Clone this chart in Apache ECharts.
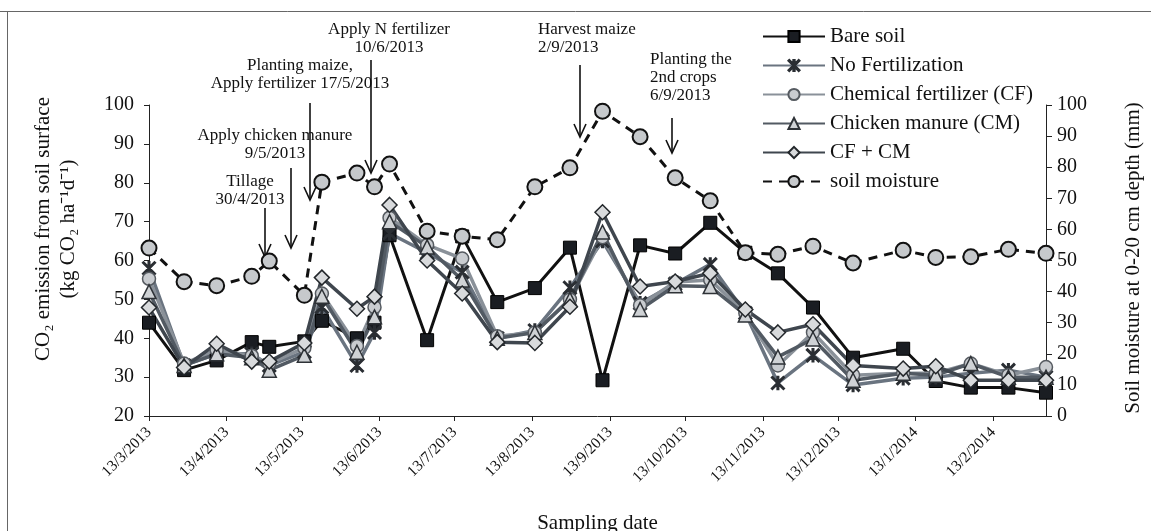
<!DOCTYPE html>
<html>
<head>
<meta charset="utf-8">
<script src="https://cdn.jsdelivr.net/npm/echarts@6/dist/echarts.min.js"></script>
<style>
  html, body { margin: 0; padding: 0; background: #fff; }
  #chart { width: 1151px; height: 531px; }
</style>
</head>
<body>
<div id="chart"></div>
<script>
// Sampling dates (field campaign, March 2013 – March 2014)
const sampleDates = [
  '2013-03-13','2013-03-27','2013-04-09','2013-04-23','2013-04-30','2013-05-14','2013-05-21',
  '2013-06-04','2013-06-11','2013-06-17','2013-07-02','2013-07-16','2013-07-30','2013-08-14',
  '2013-08-28','2013-09-10','2013-09-25','2013-10-09','2013-10-23','2013-11-06','2013-11-19',
  '2013-12-03','2013-12-19','2014-01-08','2014-01-21','2014-02-04','2014-02-19','2014-03-06'
];

// Month ticks on the date axis
const monthTicks = [
  '2013-03-13','2013-04-13','2013-05-13','2013-06-13','2013-07-13','2013-08-13',
  '2013-09-13','2013-10-13','2013-11-13','2013-12-13','2014-01-13','2014-02-13'
];

// CO2 emission (kg CO2 ha-1 d-1)
const bareSoil = [44, 31.8, 34.3, 39, 37.8, 39.2, 44.5, 40, 44, 66.5, 39.5, 66.2, 49.3, 52.9,
  63.3, 29.2, 63.9, 61.8, 69.7, 62, 56.7, 47.9, 35, 37.3, 29, 27.3, 27.3, 26];
const noFert = [58, 33, 36, 36, 33, 36.5, 48, 33, 41.5, 67, 62, 57, 40, 42,
  53, 65, 49, 54, 59, 46.5, 28.5, 35.6, 28, 29.7, 30, 31, 31.8, 30];
const chemFert = [55.3, 33.5, 37, 35.5, 33.5, 37.5, 51.5, 38, 48, 71, 64, 60.5, 40.5, 41.5,
  50, 66, 48.5, 54.5, 55, 46.5, 33, 41.5, 30.5, 31, 31, 33.5, 30.5, 32.6];
const chickenManure = [52, 33, 36, 35, 31.8, 35.6, 50.8, 36.4, 45.5, 70, 63.5, 55, 40, 41.5,
  50, 67.3, 47.4, 53.5, 53.3, 46, 35.2, 39.8, 29.2, 31, 30.5, 33.5, 30, 30];
const cfPlusCm = [47.9, 32.5, 38.6, 34, 34, 38.8, 55.6, 47.6, 50.7, 74.3, 60, 51.5, 39, 38.8,
  48.1, 72.4, 53.3, 54.6, 56.7, 47.4, 41.5, 43.6, 33, 32.2, 32.8, 29.2, 29.2, 29.2];

// Soil moisture at 0-20 cm depth (mm)
const soilMoisture = [54, 43.2, 41.9, 44.9, 49.8, 38.8, 75.2, 78.1, 73.7, 81, 59.4, 57.8, 56.7, 73.7,
  79.8, 98, 89.8, 76.6, 69.2, 52.5, 52, 54.6, 49.2, 53.3, 51, 51.2, 53.6, 52.3];

const seriesNames = ['Bare soil', 'No Fertilization', 'Chemical fertilizer (CF)',
  'Chicken manure (CM)', 'CF + CM', 'soil moisture'];

// Field operations marked above the curves
const events = [
  { lines: ['Tillage', '30/4/2013'], tx: 250, ty: 173, align: 'center', ax: 265, a1: 208, a2: 257 },
  { lines: ['Apply chicken manure', '9/5/2013'], tx: 275, ty: 127, align: 'center', ax: 291, a1: 168, a2: 248 },
  { lines: ['Planting maize,', 'Apply fertilizer 17/5/2013'], tx: 300, ty: 57, align: 'center', ax: 310, a1: 103, a2: 200 },
  { lines: ['Apply N fertilizer', '10/6/2013'], tx: 389, ty: 21, align: 'center', ax: 371, a1: 60, a2: 173 },
  { lines: ['Harvest maize', '2/9/2013'], tx: 538, ty: 21, align: 'left', ax: 580, a1: 65, a2: 137 },
  { lines: ['Planting the', '2nd crops', '6/9/2013'], tx: 650, ty: 51, align: 'left', ax: 672, a1: 118, a2: 153 }
];

const FONT = '"Liberation Serif", "Times New Roman", serif';

function ts(s) {
  const p = s.split('-').map(Number);
  return new Date(p[0], p[1] - 1, p[2]).getTime();
}
function pairs(vals) {
  return sampleDates.map((d, i) => [ts(d), vals[i]]);
}

// Excel-style asterisk marker
const asterisk = 'path://M4.4 0L5.6 0L5.6 10L4.4 10Z M0 0.8L0.8 0L10 9.2L9.2 10Z M9.2 0L10 0.8L0.8 10L0 9.2Z';

function treatment(name, data, symbol, size, lineColor, fill, border) {
  return {
    name, type: 'line', data: pairs(data), yAxisIndex: 0,
    symbol, symbolSize: size, showAllSymbol: true,
    lineStyle: { color: lineColor, width: 3.5 },
    itemStyle: { color: fill, borderColor: border, borderWidth: 1.5 },
    emphasis: { disabled: true }
  };
}

const chart = echarts.init(document.getElementById('chart'), null, { renderer: 'canvas' });

const graphics = [
  { type: 'line', shape: { x1: 0, y1: 11.5, x2: 1151, y2: 11.5 }, style: { stroke: '#666', lineWidth: 1 } },
  { type: 'line', shape: { x1: 7.5, y1: 11, x2: 7.5, y2: 531 }, style: { stroke: '#666', lineWidth: 1 } },
  {
    type: 'text', rotation: Math.PI / 2, x: 56, y: 229,
    style: { text: 'CO\u2082 emission from soil surface\n(kg CO\u2082 ha\u207B\u00B9d\u207B\u00B9)', font: '21px ' + FONT,
      fill: '#111', textAlign: 'center', textVerticalAlign: 'middle', lineHeight: 25 }
  },
  {
    type: 'text', rotation: Math.PI / 2, x: 1133, y: 258,
    style: { text: 'Soil moisture at 0-20 cm depth (mm)', font: '21px ' + FONT,
      fill: '#111', textAlign: 'center', textVerticalAlign: 'middle' }
  }
];

events.forEach(ev => {
  graphics.push({
    type: 'text', x: ev.tx, y: ev.ty,
    style: { text: ev.lines.join('\n'), font: '17px ' + FONT, fill: '#111',
      textAlign: ev.align, textVerticalAlign: 'top', lineHeight: 18 }
  });
  graphics.push({ type: 'line', shape: { x1: ev.ax, y1: ev.a1, x2: ev.ax, y2: ev.a2 },
    style: { stroke: '#111', lineWidth: 1.6 } });
  graphics.push({ type: 'polyline', shape: { points: [[ev.ax - 6, ev.a2 - 13], [ev.ax, ev.a2], [ev.ax + 6, ev.a2 - 13]] },
    style: { stroke: '#111', lineWidth: 1.6, fill: null } });
});

const tickValues = monthTicks.map(ts);

const option = {
  backgroundColor: '#fff',
  animation: false,
  textStyle: { fontFamily: FONT },
  grid: { left: 149, right: 105, top: 105, bottom: 115, containLabel: false, outerBoundsMode: 'none' },
  legend: {
    orient: 'vertical', left: 762, top: 26, padding: 0,
    itemWidth: 62, itemHeight: 14, itemGap: 8,
    selectedMode: false,
    data: seriesNames,
    textStyle: { fontFamily: FONT, fontSize: 21, color: '#111', lineHeight: 21 }
  },
  xAxis: {
    type: 'value',
    min: ts('2013-03-13'), max: ts('2014-03-06'),
    name: 'Sampling date', nameLocation: 'middle', nameGap: 97,
    nameTextStyle: { fontFamily: FONT, fontSize: 21, color: '#111' },
    axisLine: { lineStyle: { color: '#222', width: 1 } },
    axisTick: { show: true, length: 5, customValues: tickValues, lineStyle: { color: '#222' } },
    axisLabel: {
      rotate: 45, fontFamily: FONT, fontSize: 15.5, color: '#111', margin: 14,
      customValues: tickValues, hideOverlap: false,
      formatter: v => { const d = new Date(v); return d.getDate() + '/' + (d.getMonth() + 1) + '/' + d.getFullYear(); }
    },
    splitLine: { show: false }
  },
  yAxis: [
    {
      type: 'value', min: 20, max: 100, interval: 10, position: 'left',
      axisLine: { show: true, lineStyle: { color: '#222' } },
      axisTick: { show: true, length: 5, lineStyle: { color: '#222' } },
      axisLabel: { fontFamily: FONT, fontSize: 20, color: '#111', margin: 15 },
      splitLine: { show: false }
    },
    {
      type: 'value', min: 0, max: 100, interval: 10, position: 'right',
      axisLine: { show: true, lineStyle: { color: '#222' } },
      axisTick: { show: true, length: 6, lineStyle: { color: '#222' } },
      axisLabel: { fontFamily: FONT, fontSize: 20, color: '#111', margin: 11 },
      splitLine: { show: false }
    }
  ],
  series: [
    {
      name: 'Bare soil', type: 'line', data: pairs(bareSoil), yAxisIndex: 0,
      symbol: 'rect', symbolSize: 13, showAllSymbol: true,
      lineStyle: { color: '#111', width: 3 },
      itemStyle: { color: '#1a1d22', borderColor: '#000', borderWidth: 1 },
      emphasis: { disabled: true }, z: 3
    },
    treatment('No Fertilization', noFert, asterisk, 13, '#6a7480', '#2a2e33', '#2a2e33'),
    treatment('Chemical fertilizer (CF)', chemFert, 'circle', 13, '#8a9199', '#c9ccd0', '#555a60'),
    treatment('Chicken manure (CM)', chickenManure, 'triangle', 14, '#525a63', '#cfd2d5', '#2e3237'),
    treatment('CF + CM', cfPlusCm, 'diamond', 15, '#3f464e', '#d8dadc', '#23272b'),
    {
      name: 'soil moisture', type: 'line', data: pairs(soilMoisture), yAxisIndex: 1,
      symbol: 'circle', symbolSize: 15, showAllSymbol: true,
      lineStyle: { color: '#111', width: 3, type: [9, 7] },
      itemStyle: { color: '#c6c9cc', borderColor: '#111', borderWidth: 2 },
      emphasis: { disabled: true }, z: 4
    }
  ],
  graphic: graphics
};

chart.setOption(option);
</script>
</body>
</html>
